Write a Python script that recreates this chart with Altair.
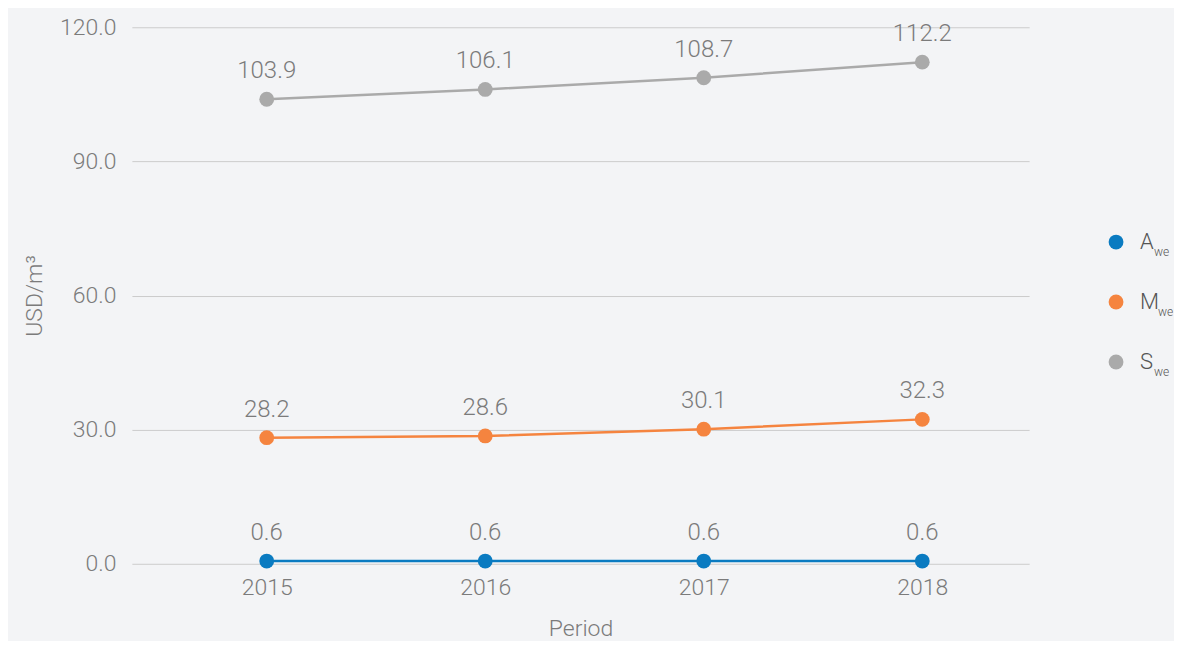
import altair as alt
import pandas as pd

years = [2015, 2016, 2017, 2018]
series_names = ["A", "M", "S"]
a_values = [0.6, 0.6, 0.6, 0.6]
m_values = [28.2, 28.6, 30.1, 32.3]
s_values = [103.9, 106.1, 108.7, 112.2]
colors = ["#0a7bc1", "#f5843f", "#aaaaaa"]
y_ticks = [0, 30, 60, 90, 120]

rows = []
for name, vals in zip(series_names, [a_values, m_values, s_values]):
    for yr, v in zip(years, vals):
        rows.append({"year": yr, "value": v, "series": name})
df = pd.DataFrame(rows)
legend_df = pd.DataFrame({"series": series_names, "sub": ["we"] * 3})

FONT = "Roboto"
TXT = "#7b7b7b"

color = alt.Color("series:N", scale=alt.Scale(domain=series_names, range=colors), legend=None)
x = alt.X("year:Q", scale=alt.Scale(domain=[2014.383, 2018.489], nice=False, zero=False),
          axis=alt.Axis(values=years, format="d", grid=False, ticks=False, domain=False,
                        labelPadding=13, labelFontSize=23, title="Period", titleFontSize=23,
                        titlePadding=18))
y = alt.Y("value:Q", scale=alt.Scale(domain=[0, 120], nice=False),
          axis=alt.Axis(values=y_ticks, format=".1f", grid=True, gridColor="#cccccc",
                        ticks=False, domain=False, labelPadding=16, labelFontSize=23,
                        title="USD/m³", titleFontSize=23, titlePadding=13))

base = alt.Chart(df)
lines = base.mark_line(strokeWidth=2.5).encode(x=x, y=y, color=color)
points = base.mark_circle(size=220, opacity=1).encode(x=x, y=y, color=color)
labels = base.mark_text(dy=-28, fontSize=24, font=FONT, fontWeight=300, color=TXT).encode(
    x=x, y=y, text=alt.Text("value:Q", format=".1f"))
main = alt.layer(lines, points, labels)

ly = alt.Y("series:N", axis=None, sort=series_names,
           scale=alt.Scale(range=[215, 335], padding=0))
leg = alt.Chart(legend_df)
leg_pts = leg.mark_circle(size=220, opacity=1).encode(x=alt.value(985), y=ly, color=color)
leg_txt = leg.mark_text(align="left", baseline="middle", fontSize=22, font=FONT,
                        fontWeight=300, color="#555555").encode(
    x=alt.value(1009), y=ly, text="series:N")
leg_sub1 = leg.transform_filter("datum.series != 'M'").mark_text(
    align="left", baseline="middle", fontSize=12, font=FONT, fontWeight=300,
    color="#555555", dy=10).encode(x=alt.value(1023), y=ly, text="sub:N")
leg_sub2 = leg.transform_filter("datum.series == 'M'").mark_text(
    align="left", baseline="middle", fontSize=12, font=FONT, fontWeight=300,
    color="#555555", dy=10).encode(x=alt.value(1027), y=ly, text="sub:N")
legend_layer = alt.layer(leg_pts, leg_txt, leg_sub1, leg_sub2)

chart = alt.layer(main, legend_layer).resolve_scale(y="independent").properties(
    width=898, height=537, background="#f3f4f6",
    padding={"left": 15, "top": 8, "right": 0, "bottom": 0}
).configure_view(stroke=None).configure_axis(
    labelFont=FONT, titleFont=FONT, labelColor=TXT, titleColor=TXT,
    labelFontWeight=300, titleFontWeight=300
)

chart.save("out.html", embed_options={"renderer": "svg", "actions": False})
